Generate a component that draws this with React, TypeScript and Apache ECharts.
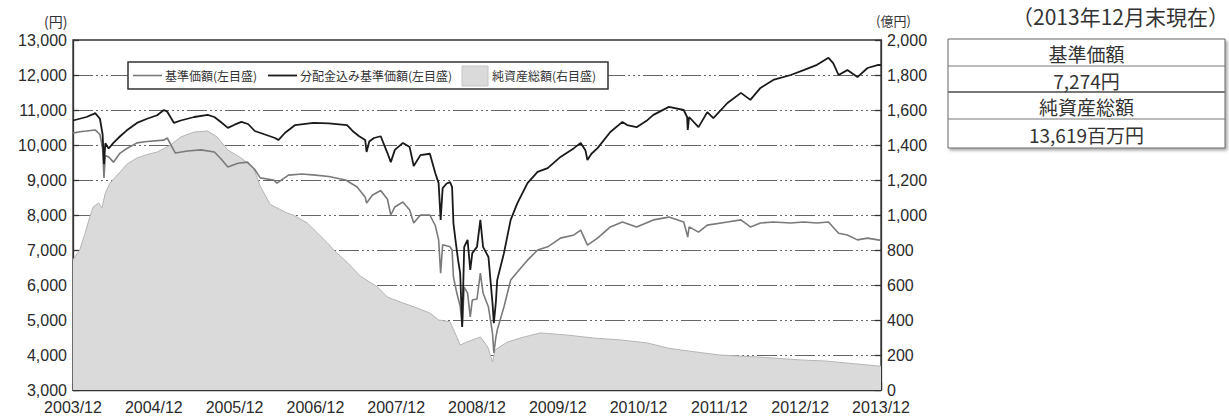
import React, { useEffect, useRef } from "react";
import * as echarts from "echarts";

// x values are months elapsed since 2003/12
const tickLabels = [
  "2003/12", "2004/12", "2005/12", "2006/12", "2007/12", "2008/12",
  "2009/12", "2010/12", "2011/12", "2012/12", "2013/12",
];

// 基準価額 (円, left axis)
const navPoints: [number, number][] = [
  [0, 10340], [1, 10380], [2, 10400], [3.3, 10430], [4, 10300], [4.4, 9900], [4.6, 9060], [4.8, 9700],
  [5.3, 9660], [6, 9510], [7, 9770], [8, 9900], [9.5, 10060], [11, 10100], [13.5, 10140], [14, 10200],
  [15.2, 9770], [17, 9830], [19, 9860], [21, 9800], [22, 9600], [23, 9370], [24.5, 9480], [25.9, 9510],
  [27, 9300], [27.8, 9060], [29.8, 9000], [30.3, 8910], [32, 9140], [34, 9170], [36, 9140], [38, 9100],
  [40.5, 9000], [42.2, 8800], [43.4, 8510], [43.6, 8340], [44.5, 8570], [45.7, 8700], [46.7, 8450],
  [47.2, 8000], [47.8, 8230], [49, 8370], [50, 8140], [50.6, 7770], [51.6, 8000], [53, 8000], [53.8, 7700],
  [54.3, 7290], [54.6, 6340], [54.9, 7150], [56, 7090], [56.3, 7000], [56.5, 6230], [57, 5770], [57.5, 5400],
  [57.8, 4800], [58.1, 5940], [58.6, 5770], [59, 5090], [59.3, 5570], [60, 5600], [60.5, 6340], [60.9, 5770],
  [61.7, 5370], [62.3, 4630], [62.5, 4060], [62.8, 4500], [63, 4710], [64, 5370], [65, 6140], [66, 6370],
  [67.5, 6710], [69, 7000], [70.5, 7090], [72.4, 7340], [74.4, 7430], [75.4, 7570], [76.4, 7140], [77.9, 7340],
  [79.8, 7660], [81.6, 7800], [83.7, 7660], [86.2, 7860], [88.5, 7940], [90.7, 7800], [91.3, 7370], [91.5, 7660],
  [92.9, 7510], [94.2, 7710], [97.2, 7800], [99.2, 7860], [100.6, 7660], [102.1, 7770], [104, 7800],
  [106.6, 7770], [108.5, 7800], [110.5, 7770], [112.2, 7800], [113.7, 7480], [115, 7430], [116.5, 7290],
  [118, 7340], [120, 7274],
];

// 分配金込み基準価額 (円, left axis)
const navReinvestedPoints: [number, number][] = [
  [0, 10700], [1, 10750], [2, 10800], [3, 10880], [3.3, 10910], [4, 10750], [4.4, 10300], [4.6, 9450],
  [4.8, 10050], [5.3, 9900], [6, 10060], [7, 10250], [8, 10420], [9.5, 10630], [11, 10750], [12.5, 10850],
  [13.5, 11000], [14, 10950], [15, 10630], [16, 10700], [18, 10800], [20, 10860], [21, 10800], [22, 10650],
  [23, 10490], [24, 10580], [25, 10660], [26, 10600], [27, 10400], [28.5, 10300], [30, 10200], [30.5, 10140],
  [31.5, 10350], [33, 10570], [35.7, 10630], [38, 10620], [40.7, 10570], [41.7, 10370], [42.5, 10250],
  [43.4, 10140], [43.6, 9800], [44, 10100], [44.7, 10200], [45.7, 10250], [46.7, 9770], [47.2, 9510],
  [47.8, 9860], [49, 10060], [49.5, 10000], [50, 9940], [50.6, 9400], [51.6, 9710], [53, 9750], [53.8, 9200],
  [54.3, 8910], [54.6, 7860], [54.9, 8770], [55.5, 8900], [56, 8940], [56.3, 8800], [56.5, 7770], [56.8, 7290],
  [57.2, 6700], [57.5, 6340], [57.8, 4800], [58.1, 7090], [58.6, 7290], [59, 6430], [59.3, 6910], [60, 7090],
  [60.5, 7860], [60.9, 7090], [61.7, 6800], [62.3, 5490], [62.5, 4910], [62.8, 5500], [63, 6140], [64, 6910],
  [65, 7860], [66, 8340], [67.5, 8910], [69, 9230], [70.5, 9340], [72.4, 9660], [74.4, 9910], [75.4, 10060],
  [76.1, 9850], [76.4, 9570], [77, 9750], [77.9, 9910], [79.8, 10370], [81.6, 10660], [82.3, 10570],
  [83.7, 10510], [85.3, 10710], [86.2, 10860], [88.5, 11090], [90.7, 11000], [91.2, 10800], [91.3, 10430],
  [91.5, 10800], [92.9, 10510], [94.2, 10940], [95.1, 10770], [97.2, 11200], [99.2, 11490], [100.6, 11290],
  [102.1, 11630], [104, 11860], [106.6, 12000], [108.5, 12140], [110.5, 12290], [112.2, 12490], [112.9, 12340],
  [113.7, 12000], [115, 12140], [116.5, 11940], [118, 12200], [119.6, 12290], [120, 12280],
];

// 純資産総額 (億円, right axis)
const netAssetPoints: [number, number][] = [
  [0, 745], [1, 800], [1.8, 897], [2.5, 990], [3, 1046], [3.8, 1069], [4.3, 1040], [4.8, 1126], [5.5, 1183],
  [7, 1246], [8, 1290], [9.5, 1326], [11, 1345], [12.5, 1360], [14.5, 1400], [16, 1446], [18, 1474], [20, 1480],
  [21.4, 1446], [23, 1371], [24.9, 1328], [26.8, 1269], [27.8, 1165], [29.3, 1060], [31.8, 1011], [32.7, 1000],
  [34.8, 954], [36.3, 897], [37.8, 840], [38.7, 800], [40.7, 730], [42.7, 650], [45.2, 589], [46.7, 531],
  [48.6, 503], [51, 470], [53, 440], [54.3, 400], [56, 390], [57, 303], [57.5, 257], [58.5, 274], [60.5, 303],
  [61.6, 246], [62.3, 160], [62.7, 229], [64.5, 274], [67, 303], [69.4, 326], [73.4, 314], [77.3, 297],
  [81.3, 286], [85.3, 269], [88.3, 240], [90.2, 229], [96, 200], [102, 188], [108, 172], [112, 165], [116, 150],
  [120, 136],
];

const legendNames = ["基準価額(左目盛)", "分配金込み基準価額(左目盛)", "純資産総額(右目盛)"];
const asOfText = "（2013年12月末現在）";
const tableRows = ["基準価額", "7,274円", "純資産総額", "13,619百万円"];

const fmt = (v: number) => v.toLocaleString("en-US");
const JP = "'Noto Sans CJK JP', sans-serif";
const NUM = "'Liberation Sans', Arial, sans-serif";

export default function App() {
  const ref = useRef<HTMLDivElement>(null);
  useEffect(() => {
    if (!ref.current) return;
    const chart = echarts.init(ref.current, undefined, { renderer: "svg" });
    const tableX = 948, tableW = 277;
    const rowYs = [39, 66, 92, 119, 148];
    const option: any = {
      animation: false,
      backgroundColor: "#ffffff",
      grid: { left: 73, right: 348, top: 40, bottom: 26, show: true, borderColor: "#333", borderWidth: 1.3, backgroundColor: "transparent" },
      xAxis: {
        type: "value", min: 0, max: 120, interval: 12,
        axisLine: { show: true, lineStyle: { color: "#333", width: 1.3 } },
        axisTick: { show: true, inside: true, length: 7, lineStyle: { color: "#333", width: 1.3 } },
        axisLabel: {
          margin: 9, color: "#2a2a2a", fontFamily: NUM, fontSize: 16, showMaxLabel: true, showMinLabel: true,
          formatter: (v: number) => tickLabels[Math.round(v / 12)] ?? "",
        },
        splitLine: { show: false },
      },
      yAxis: [
        {
          type: "value", min: 3000, max: 13000, interval: 1000, position: "left",
          axisLine: { show: true, lineStyle: { color: "#333", width: 1.3 } },
          axisTick: { show: true, inside: true, length: 6, lineStyle: { color: "#333", width: 1.3 } },
          axisLabel: { margin: 6, color: "#2a2a2a", fontFamily: NUM, fontSize: 16, formatter: (v: number) => fmt(v) },
          splitLine: { show: true, lineStyle: { color: "#666", width: 1.2, type: [20, 3, 2, 3, 2, 3, 2, 3] } },
        },
        {
          type: "value", min: 0, max: 2000, interval: 200, position: "right",
          axisLine: { show: true, lineStyle: { color: "#333", width: 1.3 } },
          axisTick: { show: true, inside: true, length: 6, lineStyle: { color: "#333", width: 1.3 } },
          axisLabel: { margin: 6, color: "#2a2a2a", fontFamily: NUM, fontSize: 16, formatter: (v: number) => fmt(v) },
          splitLine: { show: false },
        },
      ],
      series: [
        {
          name: legendNames[2], type: "line", yAxisIndex: 1, data: netAssetPoints, showSymbol: false, z: 1,
          lineStyle: { color: "#b4b4b4", width: 1 }, areaStyle: { color: "#dadada", opacity: 1 },
        },
        {
          name: legendNames[0], type: "line", yAxisIndex: 0, data: navPoints, showSymbol: false, z: 3,
          lineStyle: { color: "#7a7a7a", width: 1.6 },
        },
        {
          name: legendNames[1], type: "line", yAxisIndex: 0, data: navReinvestedPoints, showSymbol: false, z: 4,
          lineStyle: { color: "#1a1a1a", width: 1.8 },
        },
      ],
      graphic: [
        { type: "text", z: 100, x: 44, y: 21, style: { text: "(円)", font: `14px ${JP}`, fill: "#333", verticalAlign: "middle" } },
        { type: "text", z: 100, x: 876, y: 20, style: { text: "(億円)", font: `13px ${JP}`, fill: "#333", verticalAlign: "middle" } },
        // legend
        { type: "rect", z: 100, shape: { x: 128, y: 62, width: 480, height: 27 }, style: { fill: "#fff", stroke: "#333", lineWidth: 1.5 } },
        { type: "line", z: 101, shape: { x1: 133, y1: 75.5, x2: 162, y2: 75.5 }, style: { stroke: "#7a7a7a", lineWidth: 1.6 } },
        { type: "text", z: 101, x: 165, y: 75.5, style: { text: legendNames[0], font: `12px ${JP}`, fill: "#333", verticalAlign: "middle" } },
        { type: "line", z: 101, shape: { x1: 268, y1: 75.5, x2: 297, y2: 75.5 }, style: { stroke: "#1a1a1a", lineWidth: 1.8 } },
        { type: "text", z: 101, x: 300, y: 75.5, style: { text: legendNames[1], font: `12px ${JP}`, fill: "#333", verticalAlign: "middle" } },
        { type: "rect", z: 101, shape: { x: 462, y: 66, width: 26, height: 20 }, style: { fill: "#dadada", stroke: "#c4c4c4", lineWidth: 1 } },
        { type: "text", z: 101, x: 492, y: 75.5, style: { text: legendNames[2], font: `12px ${JP}`, fill: "#333", verticalAlign: "middle" } },
        // as-of title and table
        { type: "text", z: 100, x: 1229, y: 16, style: { text: asOfText, font: `21px ${JP}`, fill: "#333", align: "right", verticalAlign: "middle" } },
        {
          type: "rect", z: 100, shape: { x: tableX, y: rowYs[0], width: tableW, height: rowYs[4] - rowYs[0] },
          style: { fill: "#fff", stroke: "#666", lineWidth: 1, shadowBlur: 3, shadowOffsetX: 2, shadowOffsetY: 2, shadowColor: "rgba(0,0,0,0.35)" },
        },
        ...[1, 2, 3].map((i) => ({
          type: "line", z: 101, shape: { x1: tableX, y1: rowYs[i], x2: tableX + tableW, y2: rowYs[i] },
          style: { stroke: "#777", lineWidth: i === 2 ? 2 : 1 },
        })),
        ...tableRows.map((t, i) => ({
          type: "text", z: 101, x: tableX + tableW / 2, y: (rowYs[i] + rowYs[i + 1]) / 2 + 1,
          style: { text: t, font: `19px ${JP}`, fill: "#333", align: "center", verticalAlign: "middle" },
        })),
      ],
    };
    chart.setOption(option);
    return () => chart.dispose();
  }, []);
  return <div ref={ref} style={{ position: "fixed", left: 0, top: 0, width: 1229, height: 416 }} />;
}
